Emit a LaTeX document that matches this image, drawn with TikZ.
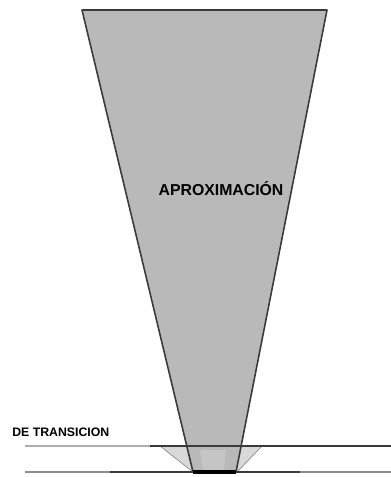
\documentclass[tikz,border=0pt]{standalone}
\usepackage{fontspec}
\setmainfont{Liberation Sans}
\usepackage{xcolor}
\definecolor{FunnelGray}{HTML}{B9B9B9}
\definecolor{WingGray}{HTML}{D9D9D9}
\definecolor{EdgeGray}{HTML}{3A3A3A}
\definecolor{LineGray}{HTML}{8C8C8C}
\begin{document}
\begin{tikzpicture}[
        x=0.02cm, y=-0.02cm,
        surface/.style={line join=round, line width=0.9pt, draw=EdgeGray},
        approach/.style={surface, fill=FunnelGray},
        wing/.style={line join=round, line width=0.4pt, draw=LineGray, fill=WingGray},
        runway/.style={line width=0.8pt},
        label/.style={font=\bfseries, text=black, inner sep=0pt}
    ]
        \useasboundingbox (0,0) rectangle (391,477);

        % Transition wings under the threshold line
        \filldraw[wing] (160,446) -- (262,446) -- (237,472) -- (193,472) -- cycle;

        % Approach surface (inverted trapezoid)
        \filldraw[approach] (82,10) -- (327,10) -- (236,472) -- (193,472) -- cycle;
        \fill[white, opacity=0.18] (200,450) -- (226,450) -- (224,470) -- (203,470) -- cycle;

        % Reference lines
        \draw[runway, LineGray!70] (25,446) -- (150,446);
        \draw[runway, EdgeGray] (150,446) -- (391,446);
        \draw[runway, LineGray] (25,472) -- (391,472);
        \draw[runway, EdgeGray] (110,472) -- (300,472);
        \draw[line width=2pt, black] (193,472) -- (236,472);

        % Labels
        \node[label, font=\fontsize{9}{10}\selectfont\bfseries] (aprox) at (221,189) {APROXIMACIÓN};
        \node[label, font=\fontsize{7}{8}\selectfont\bfseries, anchor=west] (trans) at (12,432) {DE TRANSICION};
    \end{tikzpicture}
\end{document}
